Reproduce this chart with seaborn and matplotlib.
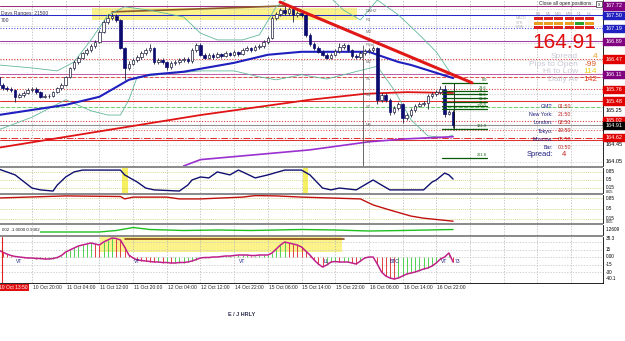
import matplotlib
matplotlib.use("Agg")
import pandas as pd
import seaborn as sns
from matplotlib import pyplot as plt
from matplotlib.patches import Rectangle

# ---- EUR/JPY hourly, values ----
first_open = 166.05
closes = [165.86, 165.79, 165.77, 165.74, 165.58, 165.62, 165.67, 165.74, 165.77, 165.69,
          165.58, 165.60, 165.60, 165.69, 165.79, 165.86, 166.05, 166.26, 166.40, 166.50,
          166.61, 166.68, 166.78, 166.87, 167.11, 167.34, 167.44, 167.48, 167.39, 166.73,
          166.26, 166.35, 166.45, 166.52, 166.61, 166.68, 166.73, 166.40, 166.45, 166.40,
          166.28, 166.38, 166.40, 166.45, 166.47, 166.42, 166.68, 166.80, 166.57, 166.50,
          166.57, 166.52, 166.59, 166.54, 166.61, 166.57, 166.64, 166.59, 166.68, 166.73,
          166.68, 166.75, 166.78, 166.87, 166.97, 167.44, 167.53, 167.62, 167.55, 167.65,
          167.51, 167.55, 167.51, 167.04, 166.82, 166.73, 166.64, 166.57, 166.50, 166.57,
          166.66, 166.75, 166.80, 166.68, 166.54, 166.52, 166.61, 166.66, 166.68, 166.73,
          165.51, 165.62, 165.51, 165.22, 165.32, 165.41, 165.08, 165.15, 165.27, 165.37,
          165.41, 165.44, 165.60, 165.65, 165.69, 165.77, 165.18, 165.22, 164.91]
highs = [166.08, 165.90, 165.84, 165.81, 165.76, 165.66, 165.71, 165.78, 165.81, 165.80,
         165.72, 165.64, 165.64, 165.72, 165.82, 165.90, 166.08, 166.29, 166.44, 166.54,
         166.64, 166.72, 166.82, 166.92, 167.15, 167.40, 167.52, 167.55, 167.53, 167.42,
         166.76, 166.42, 166.50, 166.56, 166.65, 166.72, 166.82, 166.76, 166.49, 166.49,
         166.43, 166.42, 166.45, 166.49, 166.52, 166.51, 166.72, 166.85, 166.84, 166.61,
         166.61, 166.60, 166.63, 166.62, 166.65, 166.64, 166.68, 166.67, 166.72, 166.77,
         166.76, 166.79, 166.82, 166.91, 167.01, 167.48, 167.58, 167.68, 167.72, 167.70,
         167.68, 167.60, 167.58, 167.54, 167.08, 166.86, 166.77, 166.68, 166.61, 166.61,
         166.70, 166.85, 166.84, 166.83, 166.71, 166.58, 166.65, 166.70, 166.72, 166.77,
         166.76, 165.68, 165.66, 165.55, 165.37, 165.46, 165.44, 165.20, 165.31, 165.41,
         165.46, 165.48, 165.64, 165.70, 165.74, 165.84, 165.85, 165.27, 165.26]
lows = [165.80, 165.74, 165.72, 165.70, 165.45, 165.54, 165.58, 165.64, 165.70, 165.65,
        165.54, 165.55, 165.56, 165.57, 165.66, 165.75, 165.83, 166.02, 166.22, 166.36,
        166.46, 166.57, 166.64, 166.74, 166.84, 167.08, 167.30, 167.40, 167.35, 166.70,
        165.98, 166.20, 166.32, 166.41, 166.48, 166.57, 166.64, 166.36, 166.36, 166.35,
        166.22, 166.24, 166.34, 166.36, 166.41, 166.38, 166.38, 166.64, 166.53, 166.46,
        166.46, 166.48, 166.49, 166.50, 166.51, 166.53, 166.54, 166.55, 166.56, 166.65,
        166.64, 166.65, 166.71, 166.74, 166.83, 166.94, 167.40, 167.49, 167.51, 167.50,
        167.35, 167.47, 167.46, 167.00, 166.78, 166.69, 166.60, 166.53, 166.46, 166.46,
        166.53, 166.62, 166.71, 166.64, 166.50, 166.46, 166.48, 166.57, 166.62, 166.64,
        165.40, 165.45, 165.46, 165.15, 165.18, 165.28, 164.97, 165.04, 165.11, 165.23,
        165.33, 165.37, 165.30, 165.56, 165.61, 165.65, 165.10, 165.14, 164.85]

# moving averages / bands (bar index, price)
ma_blue_x = [0, 16, 24, 31, 36, 44, 56, 64, 72, 88, 90, 95, 98, 108]
ma_blue = [165.15, 165.39, 165.58, 165.98, 166.10, 166.17, 166.38, 166.57, 166.64, 166.64,
           166.57, 166.40, 166.33, 166.02]
ma_red_x = [0, 48, 74, 87, 97, 108]
ma_red = [164.38, 165.15, 165.51, 165.65, 165.69, 165.67]
ma_purple_x = [44, 48, 74, 88, 97, 108]
ma_purple = [163.95, 164.10, 164.33, 164.52, 164.59, 164.64]
bb_up_x = [0, 8, 14, 18, 22, 26, 30, 36, 44, 48, 52, 58, 62, 66, 70, 78, 82, 86, 90, 95, 100, 104, 108]
bb_up = [166.33, 166.26, 166.19, 166.40, 166.92, 167.50, 167.70, 167.62, 167.46, 167.08, 166.92,
         166.92, 167.04, 167.70, 168.00, 168.00, 167.62, 167.39, 167.86, 167.51, 167.04, 166.64, 166.05]
bb_lo_x = [0, 8, 16, 22, 26, 29, 31, 33, 40, 48, 56, 62, 66, 72, 78, 86, 90, 94, 98, 102, 106, 108]
bb_lo = [164.80, 165.10, 165.51, 165.25, 165.15, 165.15, 165.51, 166.05, 166.12, 166.19, 166.19,
         166.05, 165.98, 166.10, 166.00, 166.20, 166.30, 165.74, 165.04, 164.66, 164.62, 164.68]

levels = [167.72, 167.50, 167.19, 166.89, 166.47, 166.11, 166.04, 165.76, 165.48, 165.33,
          165.02, 164.91, 164.80, 164.62, 164.57]
level_colors = ["#9a2f7a", "#2828c8", "#4848e0", "#a040a0", "#e03030", "#c060a8", "#e05050",
                "#e03030", "#e03030", "#70d070", "#e03030", "#909090", "#e05050", "#e03030", "#e03030"]
level_styles = ["-", "-", ":", "-", ":", "-", "--", ":", "-", "--", ":", "-", ":", "-.", "-"]

price_labels = [167.72, 167.50, 167.19, 166.89, 166.47, 166.11, 165.76, 165.48, 165.25,
                165.02, 164.91, 164.62, 164.45, 164.05]
price_label_bg = ["#800080", "#2020c0", "#2020c0", "#800080", "#e00000", "#800080", "#e00000",
                  "#e00000", None, "#e00000", "#000000", "#e00000", None, None]

pivot_names = ["DAH2", "R1", "M3", "Pivot", "M2", "S1", "M1", "S2", "M0", "S3"]
pivot_prices = [167.60, 167.40, 167.10, 166.80, 166.40, 166.00, 165.62, 165.34, 164.92, 164.52]

fib_names = ["0.0", "23.6", "38.2", "50.0", "61.8", "76.4", "100.0", "161.8", "261.8"]
fib_prices = [165.91, 165.72, 165.65, 165.56, 165.46, 165.37, 165.30, 164.82, 164.14]

stoch_x = [0, 4, 8, 10, 13, 14, 16, 18, 20, 29, 30, 33, 35, 37, 43, 45, 46, 48, 50, 52, 55, 57,
           58, 61, 64, 68, 72, 74, 77, 79, 81, 85, 89, 91, 93, 101, 103, 104, 106, 107, 108]
stoch = [0.98, 0.72, 0.15, 0.07, 0.02, 0.28, 0.63, 0.85, 0.93, 0.93, 0.72, 0.41, 0.15, 0.07,
         0.02, 0.28, 0.50, 0.63, 0.59, 0.85, 0.72, 0.93, 0.85, 0.59, 0.72, 0.93, 0.93, 0.72,
         0.15, 0.07, 0.15, 0.07, 0.50, 0.28, 0.07, 0.07, 0.41, 0.50, 0.80, 0.72, 0.54]
trend_x = [0, 16, 29, 30, 32, 40, 43, 48, 58, 61, 66, 72, 86, 89, 93, 98, 101, 108]
trend = [0.85, 0.92, 0.90, 0.82, 0.88, 0.88, 0.82, 0.82, 0.88, 0.93, 0.92, 0.88, 0.82, 0.62,
         0.45, 0.25, 0.18, 0.08]
corr_x = [10, 24, 28, 32, 36, 44, 52, 60, 72, 80, 88, 96, 108]
corr = [0.30, 0.30, 0.45, 0.75, 0.55, 0.45, 0.50, 0.45, 0.55, 0.50, 0.40, 0.45, 0.55]
osc = [14, 10, 6, 3, 1, 0, -1, -2, -2, -3, -3,
       -4, -4, -3, -1, 3, 10, 14, 18, 22, 24,
       26, 28, 26, 24, 30, 34, 38, 37, 34, 20,
       4, -2, -6, -7, -8, -9, -10, -10, -11, -11,
       -12, -12, -11, -11, -10, -8, -5, -2, -1, -1,
       0, 0, 1, 2, 2, 3, 4, 4, 4, 3,
       3, 4, 4, 4, 8, 16, 24, 30, 28, 26,
       24, 20, 12, 4, -6, -14, -20, -16, -10, -9,
       -10, -10, -10, -12, -14, -8, -2, 0, 0, -14,
       -30, -38, -42, -44, -42, -38, -34, -32, -30, -27,
       -24, -22, -18, -12, -4, 0, 8, -10]

date_labels = ["10 Oct 20:00", "11 Oct 04:00", "11 Oct 12:00", "11 Oct 20:00", "12 Oct 04:00",
               "12 Oct 12:00", "14 Oct 22:00", "15 Oct 06:00", "15 Oct 14:00", "15 Oct 22:00",
               "16 Oct 06:00", "16 Oct 14:00", "16 Oct 22:00"]
info_names = ["Spread", "Pips to Open", "Hi to Low", "Daily Av"]
info_values = ["4", "-99", "114", "142"]
clock_names = ["GMT:", "New York:", "London:", "Tokyo:", "Moscow:", "Bar:"]
clock_values = ["01:50", "21:50", "02:50", "10:50", "05:50", "00:50"]
tf_names = ["M1", "M5", "M15", "M30", "H1", "H4"]

# ---- figure ----
W, H = 625, 341
sns.set_style("white")
plt.rcParams["font.family"] = ["Liberation Sans", "DejaVu Sans"]
fig = plt.figure(figsize=(W / 100, H / 100), dpi=100)
X0, X1 = 0.4, 143.6
PW = 603


def panel(y0, y1, ylim):
    a = fig.add_axes([0, 1 - y1 / H, PW / W, (y1 - y0) / H])
    a.set_xlim(X0, X1)
    a.set_ylim(*ylim)
    a.set_xticks([])
    a.set_yticks([])
    for s in a.spines.values():
        s.set_visible(False)
    a.spines["right"].set_visible(True)
    a.spines["right"].set_color("black")
    a.spines["right"].set_linewidth(0.6)
    for k in range(1, 18):
        a.axvline(8 * k, color="#b4b4b4", lw=0.5, ls=(0, (2, 2)), zorder=0.5)
    return a


def ftext(x, y, s, **kw):
    fig.text(x / W, 1 - y / H, s, **kw)


def frect(x, y, w, h, **kw):
    fig.add_artist(Rectangle((x / W, 1 - (y + h) / H), w / W, h / H,
                             transform=fig.transFigure, **kw))


def rlabel(a, v, s, fs=3.3, color="black"):
    a.text(1 + 3 / PW, v, s, transform=a.get_yaxis_transform(), fontsize=fs,
           color=color, va="center", ha="left", clip_on=False, zorder=10)


# main price window
ax = panel(0, 166, (163.95, 167.86))
for p in [164.05, 164.45, 164.85, 165.25, 165.65, 166.05, 166.45, 166.85, 167.25, 167.65]:
    ax.axhline(p, color="#c8c8c8", lw=0.5, ls=(0, (2, 2)), zorder=0.5)
ax.add_patch(Rectangle((22.3, 167.39), 62.9, 0.28, color="#fbf38a", lw=0, zorder=0.3))
for p, c, s in zip(levels, level_colors, level_styles):
    ax.axhline(p, color=c, ls=s, lw=0.75, zorder=1)
ax.plot([27, 68], [167.58, 167.72], color="#8b5a2b", lw=1.2, zorder=2)

sns.lineplot(x=bb_up_x, y=bb_up, ax=ax, color="#62b89c", lw=0.6, zorder=2)
sns.lineplot(x=bb_lo_x, y=bb_lo, ax=ax, color="#62b89c", lw=0.6, zorder=2)
sns.lineplot(x=ma_red_x, y=ma_red, ax=ax, color="#e01414", lw=1.3, zorder=3)
sns.lineplot(x=ma_purple_x, y=ma_purple, ax=ax, color="#9b30d0", lw=1.2, zorder=3)
sns.lineplot(x=ma_blue_x, y=ma_blue, ax=ax, color="#1f1fc0", lw=1.5, zorder=3)

opens = [first_open] + closes[:-1]
df = pd.DataFrame({"bar": range(len(closes)), "open": opens, "high": highs,
                   "low": lows, "close": closes})
up = df["close"] >= df["open"]
ax.vlines(df["bar"], df["low"], df["high"], color="#202040", lw=0.6, zorder=4)
ax.bar(df["bar"][up], (df["close"] - df["open"])[up], bottom=df["open"][up], width=0.62,
       color="white", edgecolor="#202040", lw=0.5, zorder=5)
ax.bar(df["bar"][~up], (df["close"] - df["open"])[~up], bottom=df["open"][~up], width=0.62,
       color="#0c0c70", edgecolor="#0c0c70", lw=0.5, zorder=5)

ax.vlines(86.6, 163.95, 166.80, color="#505050", lw=0.6, zorder=3)
ax.vlines(108.3, 164.80, 165.91, color="#101010", lw=0.6, zorder=6)
ax.plot([66.9, 112.5], [167.81, 165.91], color="#e01818", lw=2.2, zorder=7)
for n, p in zip(fib_names, fib_prices):
    ax.plot([105.3, 116], [p, p], color="#0a5a0a", lw=0.9, zorder=6)
    ax.text(116, p + 0.015, n, fontsize=2.8, color="#0a5a0a", ha="right", va="bottom", zorder=6)
for n, p in zip(pivot_names, pivot_prices):
    ax.text(87.2, p, n, fontsize=3, color="#707070", ha="left", va="center", zorder=6)

for p, bg in zip(price_labels, price_label_bg):
    if bg:
        ax.add_patch(Rectangle((1, p - 0.085), 22 / PW, 0.17, transform=ax.get_yaxis_transform(),
                               color=bg, clip_on=False, zorder=8))
    rlabel(ax, p, "%.2f" % p, fs=4.0, color="white" if bg else "black")

# stochastic-like window
ax1 = panel(168, 193, (-0.065, 1.02))
for v in [0.85, 0.5, 0.15]:
    ax1.axhline(v, color="#cccc70", lw=0.5, ls=(0, (1.5, 1.5)), zorder=0.5)
ax1.axvspan(29.4, 30.8, color="#f6f060", lw=0, zorder=0.4)
ax1.axvspan(72.4, 73.6, color="#f6f060", lw=0, zorder=0.4)
sns.lineplot(x=stoch_x, y=stoch, ax=ax1, color="#101070", lw=1.0)
for v, s in [(0.85, "0.85"), (0.5, "0.5"), (0.17, "0.15")]:
    rlabel(ax1, v, s)
rlabel(ax1, -0.03, "0.05", fs=2.8)

# trend-strength window
ax2 = panel(195, 223, (0.02, 0.95))
for v in [0.85, 0.5, 0.15]:
    ax2.axhline(v, color="#cccc70", lw=0.5, ls=(0, (1.5, 1.5)), zorder=0.5)
sns.lineplot(x=trend_x, y=trend, ax=ax2, color="#c01010", lw=1.0)
for v, s in [(0.85, "0.85"), (0.5, "0.5"), (0.17, "0.15")]:
    rlabel(ax2, v, s)
rlabel(ax2, 0.05, "0.05", fs=2.8)

# correlation window
ax3 = panel(225, 235, (0, 1))
sns.lineplot(x=corr_x, y=corr, ax=ax3, color="#20c020", lw=1.0)
ax3.text(0.003, 0.55, "002 -1.0000 0.9302", transform=ax3.transAxes, fontsize=3.2,
         color="#202020", va="center")
rlabel(ax3, 0.6, "1.2609")

# oscillator histogram window
ax4 = panel(237, 283, (-52, 40))
ax4.spines["bottom"].set_visible(True)
ax4.spines["bottom"].set_color("black")
ax4.spines["bottom"].set_linewidth(0.6)
for v in [30, 15, 0, -15, -30]:
    ax4.axhline(v, color="#c0c0c0", lw=0.5, ls=(0, (2, 2)), zorder=0.5)
ax4.add_patch(Rectangle((24.2, 10), 57.4, 30, color="#fbf38a", lw=0, zorder=0.3))
ax4.plot([30, 82], [36, 36], color="#8b4513", lw=1.2, zorder=1)
bars = list(range(len(osc)))
cols = ["#e04040"] + ["#50d050" if osc[i] >= osc[i - 1] else "#e04040" for i in bars[1:]]
ax4.vlines(bars, 0, osc, colors=cols, lw=0.7, zorder=2)
sns.lineplot(x=bars, y=osc, ax=ax4, color="#c0208a", lw=1.1, zorder=3)
ax4.axvline(0.9, color="#e02020", lw=0.8, zorder=3)
for b, s in [(5, "VT"), (33, "VT"), (58, "VT"), (78, "LL"), (94, "BTC"), (106, "VT"), (109, "73")]:
    ax4.text(b, -9, s, fontsize=3.6, color="#202080", ha="center", va="center", zorder=4)
for v, s in [(37, "38.3"), (15, "15"), (0, "0.00"), (-15, "-15"), (-30, "-30"), (-42, "-40.1")]:
    rlabel(ax4, v, s)

# panel separators
for y in [166, 193, 223, 235]:
    frect(0, y, PW, 1.8, color="#8c8c8c", lw=0)

# time axis
for k, s in enumerate(date_labels, start=1):
    px = (8 * k - X0) * PW / (X1 - X0)
    ftext(px + 1, 287.5, s, fontsize=3.6, va="center", ha="left")
ftext(-1, 287.5, "10 Oct 13:50", fontsize=3.6, va="center", ha="left", color="white",
      bbox=dict(boxstyle="square,pad=0.2", fc="#e01010", ec="none"))

# top-left / top-right overlays
ftext(1, 14, "Days Ranges: 21500", fontsize=3.6, color="#303050", va="center")
ftext(1, 20, "700", fontsize=3.6, color="#303050", va="center")
ftext(593, 4, "Close all open positions:", fontsize=3.5, ha="right", va="center")
frect(596, 1, 6, 6, fc="white", ec="black", lw=0.4)
ftext(599, 4, "x", fontsize=3.5, ha="center", va="center")
tf_x = [538, 548, 558, 569, 579, 589]
for x, s in zip(tf_x, tf_names):
    ftext(x, 14, s, fontsize=2.7, color="#b0b0b0", ha="center", va="center")
for y, s in [(18, "MACD"), (22.5, "STR"), (27, "EMA")]:
    ftext(516, y, s, fontsize=2.7, color="#b8b8b8", va="center")
for r, y in enumerate([18.5, 23, 27.5]):
    for c, x in enumerate(tf_x):
        col = "#e02020"
        if r == 1:
            col = "#2aa02a" if c == 4 else "#e8a020"
        frect(x - 4.5, y - 1.5, 9, 3, color=col, lw=0)
ftext(564, 42, "164.91", fontsize=15, color="#e01010", ha="center", va="center")
info_colors = ["#e8a020", "#e05a20", "#e8d020", "#e04020"]
for i, (n, v) in enumerate(zip(info_names, info_values)):
    y = 57 + 7.4 * i
    ftext(578, y, n, fontsize=6, color="#c8c8d6", ha="right", va="center")
    ftext(597, y, v, fontsize=6, color=info_colors[i], ha="right", va="center")
for i, (n, v) in enumerate(zip(clock_names, clock_values)):
    y = 107 + 8 * i
    ftext(553, y, n, fontsize=3.8, color="#202080", ha="right", va="center")
    ftext(558, y, v, fontsize=3.8, color="#c02020", ha="left", va="center")
ftext(553, 155, "Spread:", fontsize=5.5, color="#202080", ha="right", va="center")
ftext(562, 155, "4", fontsize=5.5, color="#c02020", ha="left", va="center")

ftext(228, 314, "E / J HRLY", fontsize=4, weight="bold", color="#303050", va="center")

fig.savefig("out.png", dpi=100, facecolor="white")
